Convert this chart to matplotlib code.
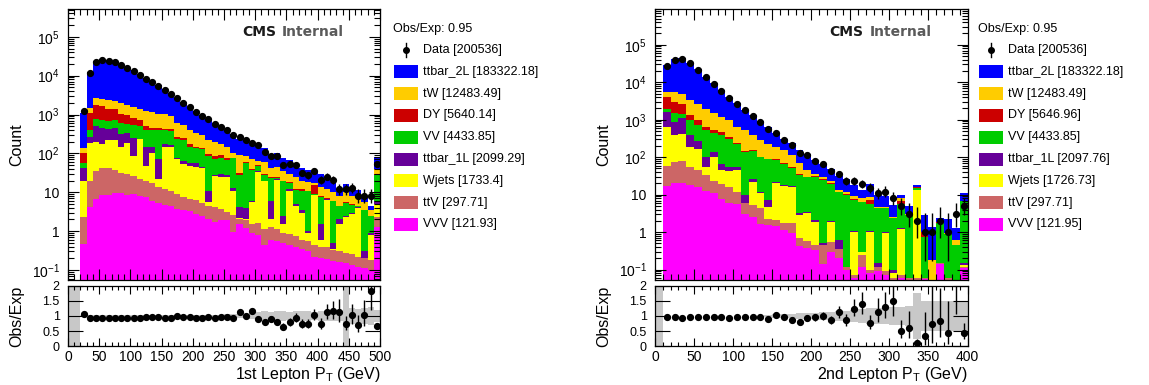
import numpy as np
import matplotlib
matplotlib.use("Agg")
import matplotlib.pyplot as plt
from matplotlib.patches import Rectangle
from matplotlib.lines import Line2D
from matplotlib.ticker import MultipleLocator, LogLocator, FuncFormatter, FixedLocator, NullFormatter

plt.rcParams['font.family'] = ['Liberation Sans', 'DejaVu Sans']
plt.rcParams['mathtext.fontset'] = 'custom'
plt.rcParams['mathtext.rm'] = 'Liberation Sans'
plt.rcParams['mathtext.it'] = 'Liberation Sans:italic'
plt.rcParams['mathtext.bf'] = 'Liberation Sans:bold'

# ---------------- data : left panel (1st lepton pT, 10 GeV bins 0-500) ----------------
left_edges = list(range(0, 501, 10))
left_data = [0, 0, 1200, 11750, 22000, 25300, 24400, 22000, 19000, 15800, 13000, 10400,
             8400, 6900, 5450, 4400, 3400, 2640, 2000, 1520, 1180, 930,
             750, 570, 475, 390, 290, 265, 215, 185, 165, 108,
             85, 85, 49, 54, 49, 31, 27, 35, 21, 25,
             21, 12, 12, 13, 8, 8, 8, 54]
# cumulative stack heights (top edge of each layer), from top layer down
left_top_ttbar2L = [0, 0, 1120, 12370, 23400, 26630, 25680, 23400, 20000, 16630, 13830, 10950,
                    8750, 7190, 5680, 4630, 3620, 2630, 2040, 1570, 1255, 1000,
                    781, 600, 485, 406, 312, 232, 214, 161, 183, 137,
                    96, 104, 75, 68, 52, 42, 37, 34, 29, 22,
                    18, 10.6, 16.4, 12.7, 11.4, 7.8, 4.4, 82]
left_top_tW = [0, 0, 140, 1450, 2640, 2540, 2400, 2170, 2000, 1780, 1550, 1410,
               1230, 1150, 1050, 1010, 900, 600, 525, 405, 335, 290,
               215, 195, 170, 150, 100, 90, 85, 70, 65, 60,
               42, 45, 35, 30, 25, 20, 18, 17, 14, 12,
               10, 8, 10, 8, 7, 5.5, 3.5, 40]
left_top_DY = [0, 0, 105, 1080, 1800, 1650, 1370, 1410, 1050, 990, 810, 705,
               500, 455, 445, 430, 430, 265, 255, 170, 150, 140,
               95, 84, 89, 77, 76, 31, 60, 40, 50, 30,
               25, 25, 20, 18, 12, 12, 11, 15, 8, 7,
               6, 4.5, 5.5, 5, 4.5, 3.5, 2.5, 30]
left_top_VV = [0, 0, 57, 405, 750, 705, 665, 705, 600, 580, 525, 500,
               405, 390, 400, 390, 375, 240, 225, 150, 135, 127,
               84, 73, 78, 66, 74, 27, 55, 38, 48, 28,
               23, 23, 19, 17, 11.5, 11, 10.5, 9, 7.5, 6.8,
               5.8, 4.3, 5.3, 4.8, 4.4, 3.4, 2.4, 28]
left_top_ttbar1L = [0, 0, 43, 265, 500, 455, 430, 455, 320, 335, 250, 240,
                    150, 150, 70, 170, 165, 78, 64, 55, 57, 45,
                    10.5, 28, 30, 27, 12.6, 4.2, 4.0, 6.0, 35, 20,
                    6, 22, 2.5, 12, 5, 3.5, 1.0, 8.5, 1.5, 6.5,
                    0.5, 2.0, 2.5, 3.0, 4.2, 0.3, 0.9, 6.0]
left_top_Wjets = [0, 0, 19, 180, 195, 172, 215, 225, 150, 180, 84, 230,
                  48, 105, 22, 150, 145, 70, 53, 47, 44, 41,
                  5.7, 26, 25, 24, 11, 2.2, 2.0, 5.5, 33, 19,
                  2.0, 21, 1.5, 11, 4.5, 3.0, 0.9, 8.3, 0.6, 6.3,
                  0.35, 1.5, 2.3, 2.8, 4.0, 0.2, 0.8, 5.1]
left_top_ttV = [0, 0, 2.3, 20, 36, 43, 41, 37, 31, 29, 26, 22,
                20, 17, 14, 12, 10.5, 9, 7.6, 6.6, 6.3, 5.2,
                4.5, 4.2, 3.8, 3.1, 2.6, 2.1, 1.9, 1.5, 1.6, 1.1,
                1.3, 1.1, 0.9, 0.85, 0.75, 0.6, 0.55, 0.45, 0.4, 0.38,
                0.33, 0.3, 0.28, 0.25, 0.22, 0.2, 0.18, 2.3]
left_top_VVV = [0, 0, 0.47, 4.2, 6.5, 8.3, 8.6, 9.7, 9.3, 8.6, 8.8, 7.9,
                7.6, 6.0, 5.2, 4.7, 4.5, 3.8, 3.5, 3.2, 2.8, 2.5,
                2.1, 1.75, 1.9, 1.9, 0.95, 1.5, 1.2, 0.9, 0.8, 0.45,
                0.6, 0.55, 0.5, 0.45, 0.4, 0.35, 0.3, 0.22, 0.2, 0.19,
                0.17, 0.16, 0.15, 0.13, 0.12, 0.11, 0.1, 1.3]
left_mc_unc = [0, 0, 0.02, 0.02, 0.02, 0.02, 0.02, 0.02, 0.02, 0.02, 0.02, 0.02,
               0.02, 0.02, 0.02, 0.02, 0.02, 0.02, 0.02, 0.02, 0.02, 0.02,
               0.03, 0.03, 0.04, 0.05, 0.05, 0.07, 0.08, 0.09, 0.14, 0.15,
               0.14, 0.15, 0.16, 0.14, 0.15, 0.16, 0.15, 0.14, 0.16, 0.15,
               0.15, 0.16, 1.2, 0.25, 0.22, 0.25, 0.3, 0.2]
left_legend_values = ["200536", "183322.18", "12483.49", "5640.14", "4433.85",
                      "2099.29", "1733.4", "297.71", "121.93"]

# ---------------- data : right panel (2nd lepton pT, 10 GeV bins 0-400) ----------------
right_edges = list(range(0, 401, 10))
right_data = [0, 27700, 39200, 41600, 31900, 21200, 13600, 9040, 6010, 3840, 2660,
              1770, 1250, 867, 577, 443, 294, 208, 130, 113, 78,
              64, 42, 36, 23, 23, 19, 15, 11, 12, 8,
              5, 3, 2, 1, 1, 2, 1, 3, 5]
right_top_ttbar2L = [0, 28850, 40830, 43790, 33230, 22080, 14170, 9420, 6260, 4040, 2770,
                     1840, 1300, 903, 641, 430, 306, 236, 159, 122, 82,
                     64, 49, 32, 27, 18.5, 13.7, 19.5, 9.6, 9.3, 5.3,
                     9.8, 5.1, 18, 2.9, 1.37, 2.4, 2.2, 1.3, 11.1]
right_top_tW = [0, 5650, 5420, 4900, 3260, 2660, 1960, 1500, 1180, 960, 640,
                520, 384, 282, 221, 188, 153, 113, 68, 47, 36,
                30, 23, 13.5, 12, 9, 8, 8.7, 4.7, 4.7, 2.5,
                8.0, 3.0, 16, 1.0, 0.18, 1.9, 0.95, 0.6, 6.8]
right_top_DY = [0, 4000, 2950, 2550, 1300, 960, 640, 520, 461, 347, 240,
                147, 160, 102, 92, 87, 68, 55, 35, 30, 31,
                26, 20, 12, 10.5, 7.5, 6.5, 7.1, 4.5, 4.5, 2.4,
                7.0, 2.9, 15.7, 1.0, 0.05, 1.85, 0.9, 0.45, 6.7]
right_top_VV = [0, 1960, 1500, 1380, 960, 710, 542, 443, 384, 307, 221,
                136, 144, 100, 87, 83, 65, 53, 33, 29, 30,
                25, 19.5, 11.5, 10, 7.3, 6.3, 5.6, 4.4, 4.4, 2.35,
                5.8, 2.85, 15.5, 0.75, 0.05, 1.8, 0.9, 0.45, 6.6]
right_top_ttbar1L = [0, 1560, 870, 1130, 384, 271, 102, 138, 65, 55, 55,
                     9.8, 25.5, 12, 7.2, 22, 18, 17, 3.2, 3.5, 2.1,
                     0.5, 2.0, 0.6, 0.12, 1.1, 0.3, 1.1, 0.15, 1.0, 0.1,
                     1.3, 0.06, 13.2, 0.06, 0.05, 0.15, 0.06, 0.05, 0.15]
right_top_Wjets = [0, 640, 400, 410, 188, 170, 55, 102, 46, 43, 45,
                   6.1, 22, 10.8, 4.8, 21, 17, 16.3, 2.9, 3.2, 1.9,
                   0.45, 1.9, 0.35, 0.12, 1.0, 0.3, 1.0, 0.12, 0.95, 0.08,
                   1.2, 0.06, 13, 0.06, 0.05, 0.15, 0.06, 0.05, 0.13]
right_top_ttV = [0, 58, 75, 80, 55, 45, 33, 23, 19, 15.7, 12,
                 6.1, 5.3, 4.3, 2.2, 2.1, 1.73, 1.8, 0.7, 0.57, 0.45,
                 0.45, 0.55, 0.35, 0.12, 0.07, 0.25, 0.1, 0.12, 0.09, 0.06,
                 0.07, 0.06, 0.06, 0.06, 0.05, 0.15, 0.06, 0.05, 0.12]
right_top_VVV = [0, 17, 21, 21, 18, 16, 12.8, 10.8, 7.7, 6.1, 5.5,
                 3.1, 2.6, 1.66, 1.57, 1.47, 1.15, 0.98, 0.42, 0.38, 0.33,
                 0.14, 0.3, 0.2, 0.1, 0.06, 0.12, 0.08, 0.09, 0.07, 0.05,
                 0.06, 0.05, 0.05, 0.055, 0.05, 0.14, 0.05, 0.05, 0.11]
right_mc_unc = [0, 0.01, 0.01, 0.01, 0.01, 0.01, 0.01, 0.01, 0.01, 0.01, 0.01,
                0.01, 0.01, 0.01, 0.04, 0.06, 0.07, 0.08, 0.1, 0.1, 0.11,
                0.12, 0.13, 0.15, 0.18, 0.2, 0.22, 0.25, 0.25, 0.28, 0.3,
                0.3, 0.32, 0.75, 0.5, 0.5, 0.5, 0.5, 0.5, 0.5]
right_legend_values = ["200536", "183322.18", "12483.49", "5646.96", "4433.85",
                       "2097.76", "1726.73", "297.71", "121.95"]

process_names = ["ttbar_2L", "tW", "DY", "VV", "ttbar_1L", "Wjets", "ttV", "VVV"]
process_colors = ["#0000ff", "#ffcc00", "#cc0000", "#00cc00", "#660099", "#ffff00", "#cc6666", "#ff00ff"]
obs_exp = "0.95"

# ---------------- figure ----------------
W, H = 1149, 385
fig = plt.figure(figsize=(W / 100, H / 100), dpi=100)


def fx(px):
    return px / W


def fy(py):
    return 1 - py / H


def poisson_err(n):
    n = np.asarray(n, float)
    lo = np.where(n > 0, n * (1 - 1 / (9 * np.maximum(n, 1)) - 1 / (3 * np.sqrt(np.maximum(n, 1)))) ** 3, 0)
    hi = (n + 1) * (1 - 1 / (9 * (n + 1)) + 1 / (3 * np.sqrt(n + 1))) ** 3
    return n - lo, hi - n


def log_fmt(v, pos):
    e = int(round(np.log10(v)))
    if e == 0:
        return "1"
    if e == 1:
        return "10"
    return r"$\mathregular{10^{%d}}$" % e


def panel(xpix, edges, data, tops, unc, ylims, xmax, xlabel):
    x0, x1 = xpix
    ax = fig.add_axes([fx(x0), fy(280), fx(x1 - x0), (280 - 9) / H])
    axr = fig.add_axes([fx(x0), fy(346.3), fx(x1 - x0), (346.3 - 285.7) / H])
    edges = np.asarray(edges, float)
    centers = 0.5 * (edges[:-1] + edges[1:])
    floor = 1e-4
    for vals, col in zip(tops, process_colors):
        v = np.asarray(vals, float)
        ax.stairs(np.where(v > 0, v, floor), edges, baseline=floor, fill=True,
                  color=col, lw=0)
    data = np.asarray(data, float)
    total = np.asarray(tops[0], float)
    dlo, dhi = poisson_err(data)
    m = data > 0
    ax.errorbar(centers[m], data[m], yerr=[dlo[m], dhi[m]], fmt='o', color='black',
                ms=4.2, elinewidth=1.0, capsize=0, zorder=5)
    ax.set_yscale('log')
    ax.set_xlim(0, xmax)
    ax.set_ylim(*ylims)
    ax.yaxis.set_major_locator(LogLocator(base=10, numticks=20))
    ax.yaxis.set_minor_locator(LogLocator(base=10, subs=np.arange(2, 10), numticks=40))
    ax.yaxis.set_major_formatter(FuncFormatter(log_fmt))
    ax.yaxis.set_minor_formatter(NullFormatter())
    ax.xaxis.set_major_locator(MultipleLocator(50))
    ax.xaxis.set_minor_locator(MultipleLocator(10))
    ax.tick_params(which='both', direction='in', top=True, right=True, labelbottom=False,
                   labelsize=10, width=0.8)
    ax.tick_params(which='major', length=8)
    ax.tick_params(which='minor', length=4)
    ax.tick_params(axis='y', which='major', pad=6)

    # ratio panel
    unc = np.asarray(unc, float)
    band_lo = np.where(total > 0, 1 - unc, 0)
    band_hi = np.where(total > 0, 1 + unc, 2.2)
    axr.bar(centers, band_hi - band_lo, bottom=band_lo, width=np.diff(edges),
            color='#c8c8c8', lw=0, zorder=1)
    mr = m & (total > 0)
    ratio = data[mr] / total[mr]
    axr.errorbar(centers[mr], ratio, yerr=[dlo[mr] / total[mr], dhi[mr] / total[mr]],
                 fmt='o', color='black', ms=4.2, elinewidth=1.0, capsize=0, zorder=5)
    axr.set_xlim(0, xmax)
    axr.set_ylim(0, 2)
    axr.yaxis.set_major_locator(FixedLocator([0, 0.5, 1, 1.5, 2]))
    axr.yaxis.set_major_formatter(FuncFormatter(lambda v, p: "%g" % v))
    axr.xaxis.set_major_locator(MultipleLocator(50))
    axr.xaxis.set_minor_locator(MultipleLocator(10))
    axr.xaxis.set_major_formatter(FuncFormatter(lambda v, p: "%g" % v))
    axr.tick_params(which='both', direction='in', top=True, right=True, labelsize=10, width=0.8)
    axr.tick_params(axis='y', which='major', length=11, pad=6, labelsize=9)
    axr.tick_params(axis='x', which='major', length=6, pad=3)
    axr.tick_params(axis='x', which='minor', length=3)
    for a in (ax, axr):
        for s in a.spines.values():
            s.set_linewidth(0.9)

    fig.text(fx(x1), fy(374), xlabel, ha='right', va='center', fontsize=11.5)
    fig.text(fx(x0 - 51), fy(145), "Count", rotation=90, ha='center', va='center', fontsize=11.5)
    fig.text(fx(x0 - 51), fy(316), "Obs/Exp", rotation=90, ha='center', va='center', fontsize=11.5)
    # CMS label
    fig.text(fx(x1 - 138), fy(32), "CMS", ha='left', va='center', fontsize=10,
             fontweight='bold', family='DejaVu Sans', color='#1a1a1a')
    fig.text(fx(x1 - 98), fy(32), "Internal", ha='left', va='center', fontsize=10,
             fontweight='bold', family='DejaVu Sans', color='#5a5a5a')
    return ax, axr


def legend(xhead, values):
    fig.text(fx(xhead), fy(29), "Obs/Exp: " + obs_exp, ha='left', va='center', fontsize=9)
    row_y = [50 + 21.8 * i for i in range(9)]
    box_x = xhead + 1
    txt_x = box_x + 29
    # data entry
    yc = row_y[0]
    fig.add_artist(Line2D([fx(box_x + 12)] * 2, [fy(yc - 7), fy(yc + 7)], color='black', lw=1))
    fig.add_artist(Line2D([fx(box_x + 12)], [fy(yc)], marker='o', ms=4, color='black'))
    fig.text(fx(txt_x), fy(yc), "Data [%s]" % values[0], ha='left', va='center', fontsize=9)
    for i, (name, col) in enumerate(zip(process_names, process_colors)):
        yc = row_y[i + 1]
        fig.add_artist(Rectangle((fx(box_x), fy(yc + 6.5)), fx(24), 13 / H,
                                 transform=fig.transFigure, facecolor=col, edgecolor='none'))
        fig.text(fx(txt_x), fy(yc), "%s [%s]" % (name, values[i + 1]), ha='left', va='center',
                 fontsize=9)


left_tops = [left_top_ttbar2L, left_top_tW, left_top_DY, left_top_VV,
             left_top_ttbar1L, left_top_Wjets, left_top_ttV, left_top_VVV]
right_tops = [right_top_ttbar2L, right_top_tW, right_top_DY, right_top_VV,
              right_top_ttbar1L, right_top_Wjets, right_top_ttV, right_top_VVV]

panel((68, 380), left_edges, left_data, left_tops, left_mc_unc, (0.055, 5.2e5), 500,
      r"1st Lepton P$_\mathregular{T}$ (GeV)")
panel((655, 967.5), right_edges, right_data, right_tops, right_mc_unc, (0.053, 9e5), 400,
      r"2nd Lepton P$_\mathregular{T}$ (GeV)")
legend(393, left_legend_values)
legend(978, right_legend_values)

fig.savefig("out.png", dpi=100)
